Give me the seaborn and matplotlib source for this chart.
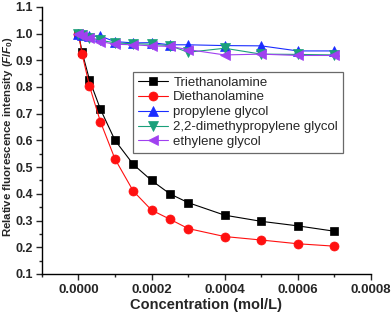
import numpy as np
import pandas as pd
import matplotlib
matplotlib.use("Agg")
import matplotlib.pyplot as plt
import seaborn as sns
from matplotlib.ticker import MultipleLocator, FormatStrFormatter


# concentration values (mol/L) shared by every series
conc = [0, 1e-5, 3e-5, 6e-5, 1e-4, 1.5e-4, 2e-4, 2.5e-4, 3e-4, 4e-4, 5e-4, 6e-4, 7e-4]

triethanolamine = [1.0, 0.93, 0.827, 0.717, 0.60, 0.51, 0.45, 0.40, 0.367, 0.32, 0.297, 0.28, 0.26]
diethanolamine = [1.0, 0.923, 0.804, 0.67, 0.53, 0.41, 0.339, 0.305, 0.27, 0.24, 0.227, 0.213, 0.204]
propylene = [1.0, 0.995, 0.99, 0.99, 0.97, 0.965, 0.966, 0.958, 0.958, 0.955, 0.954, 0.935, 0.935]
dimethylpropylene = [1.0, 0.995, 0.985, 0.975, 0.965, 0.962, 0.96, 0.955, 0.93, 0.945, 0.923, 0.922, 0.92]
ethylene = [1.0, 0.99, 0.984, 0.97, 0.96, 0.958, 0.954, 0.952, 0.94, 0.92, 0.923, 0.918, 0.918]

names = ["Triethanolamine", "Diethanolamine", "propylene glycol",
         "2,2-dimethypropylene glycol", "ethylene glycol"]
series = [triethanolamine, diethanolamine, propylene, dimethylpropylene, ethylene]
colors = ["#000000", "#ff1010", "#1a2cff", "#1aa07a", "#a040f0"]
markers = ["s", "o", "^", "v", "<"]
sizes = [5.5, 6.5, 6.5, 6.5, 6.5]


sns.set_style("ticks")
plt.rcParams["font.family"] = ["Liberation Sans", "DejaVu Sans"]
plt.rcParams["mathtext.fontset"] = "custom"
plt.rcParams["mathtext.it"] = "Liberation Sans:italic:bold"
plt.rcParams["mathtext.rm"] = "Liberation Sans:bold"

fig = plt.figure(figsize=(3.92, 3.12), dpi=100)
ax = fig.add_axes([0.107, 0.122, 0.839, 0.856])

for name, vals, c, m, s in zip(names, series, colors, markers, sizes):
    df = pd.DataFrame({"x": conc, "y": vals})
    sns.lineplot(data=df, x="x", y="y", ax=ax, color=c, marker=m,
                 markersize=s, linewidth=0.8, label=name)

for line in ax.get_lines():
    line.set_markeredgecolor(line.get_color())
    line.set_markeredgewidth(0.5)

ax.set_xlim(-0.0001, 0.0008)
ax.set_ylim(0.1, 1.1)
ax.xaxis.set_major_locator(MultipleLocator(0.0002))
ax.xaxis.set_minor_locator(MultipleLocator(0.0001))
ax.yaxis.set_major_locator(MultipleLocator(0.1))
ax.yaxis.set_minor_locator(MultipleLocator(0.05))
ax.xaxis.set_major_formatter(FormatStrFormatter("%.4f"))
ax.yaxis.set_major_formatter(FormatStrFormatter("%.1f"))

ax.tick_params(which="major", direction="out", length=4, width=1, labelsize=9.5)
ax.tick_params(axis="y", which="major", labelsize=9, pad=2.5)
ax.tick_params(which="minor", direction="out", length=2.5, width=1)
for lab in ax.get_xticklabels() + ax.get_yticklabels():
    lab.set_fontweight("bold")

sns.despine(ax=ax)
for sp in ["left", "bottom"]:
    ax.spines[sp].set_linewidth(1)
    ax.spines[sp].set_color("black")

ax.set_xlabel("Concentration (mol/L)", fontsize=10.5, fontweight="bold", labelpad=1)
ax.set_ylabel(r"Relative fluorescence intensity ($\mathit{F/F_0}$)",
              fontsize=8.2, fontweight="bold")
ax.yaxis.set_label_coords(-0.082, 0.513)

leg = ax.legend(loc="upper left", bbox_to_anchor=(0.277, 0.757), borderaxespad=0,
                fontsize=9.5, frameon=True, fancybox=False, handlelength=2.3,
                labelspacing=0.2, handletextpad=0.4, borderpad=0.35)
leg.get_frame().set_edgecolor("#444444")
leg.get_frame().set_linewidth(0.9)

fig.savefig("out.png", dpi=100)
